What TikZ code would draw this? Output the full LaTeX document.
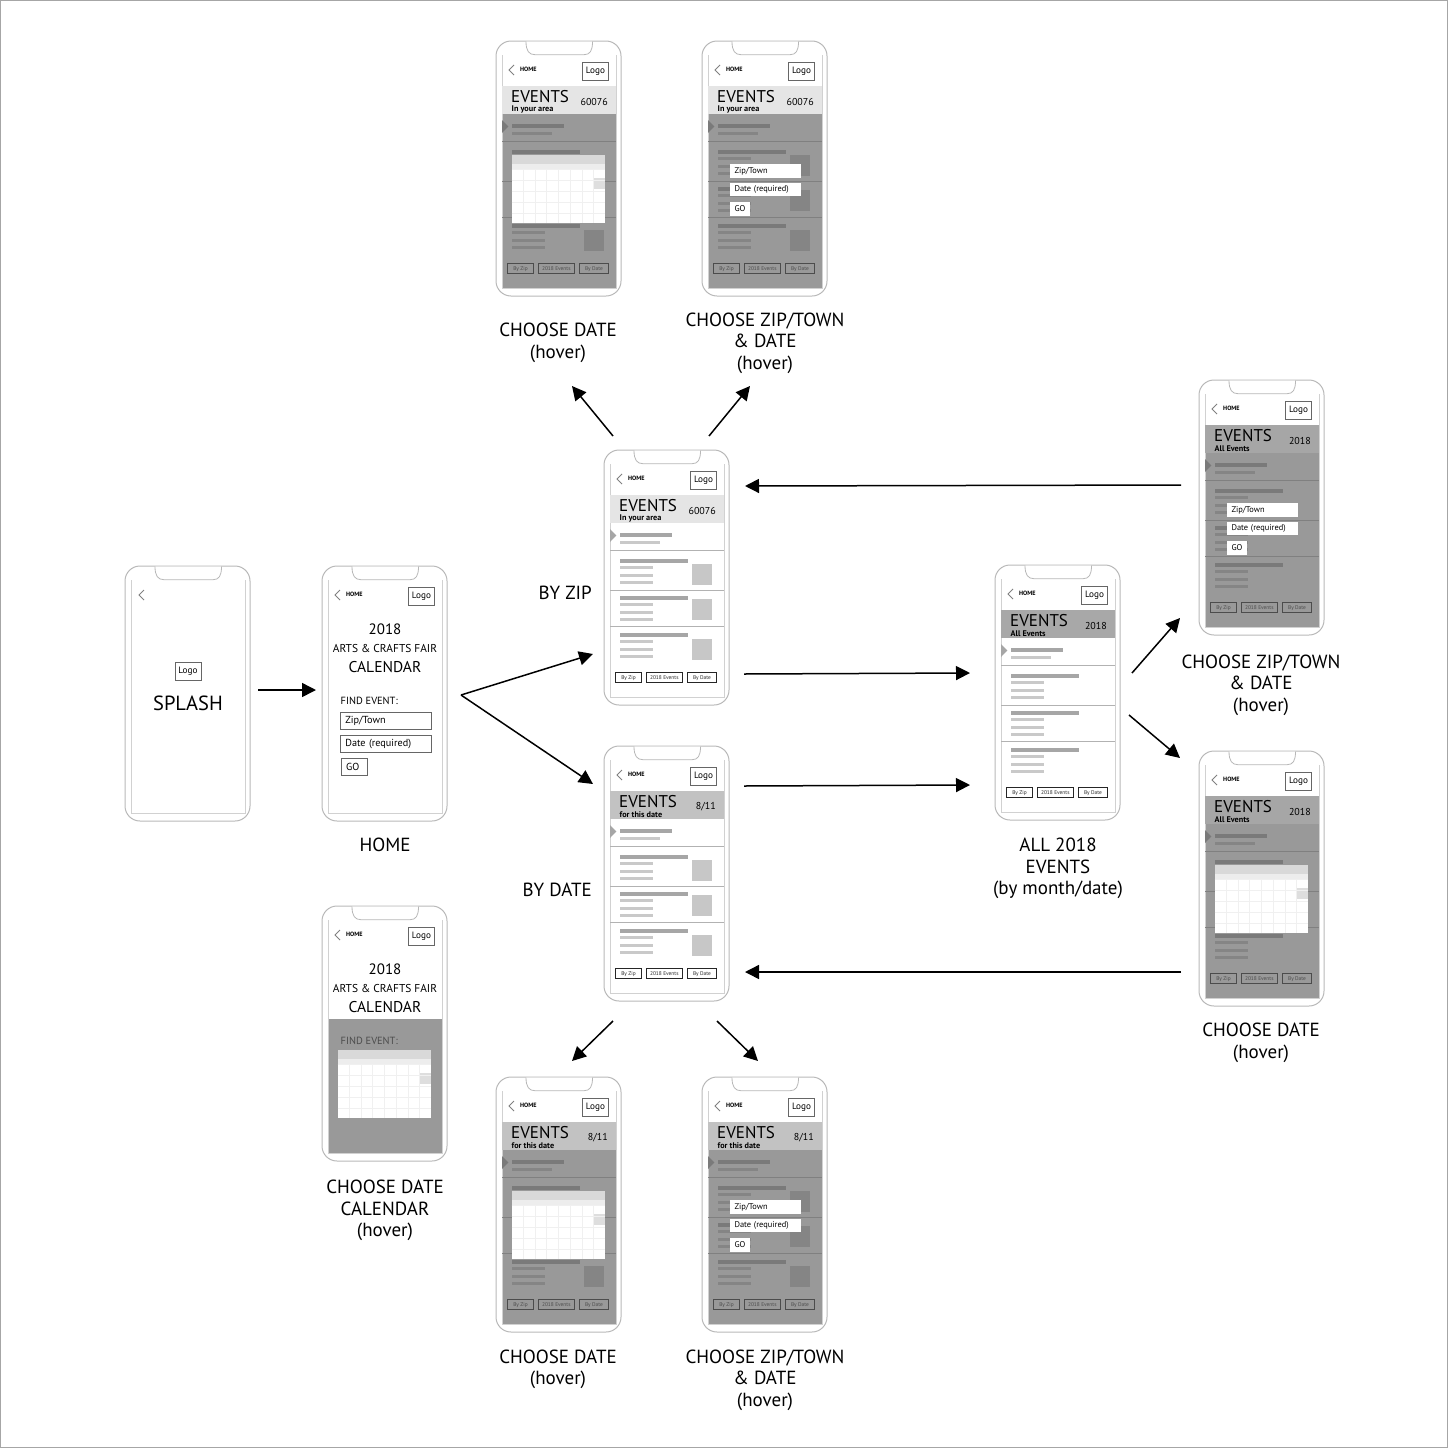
\documentclass[tikz,border=0pt]{standalone}
\usepackage{fontspec}
\setmainfont{PT Sans}
\usetikzlibrary{arrows.meta}

\definecolor{phoneline}{gray}{0.72}
\definecolor{frameline}{gray}{0.82}
\definecolor{boxline}{gray}{0.40}
\definecolor{hoverback}{gray}{0.60}
\definecolor{zipband}{gray}{0.90}
\definecolor{dateband}{gray}{0.76}
\definecolor{allband}{gray}{0.66}
\definecolor{hallband}{gray}{0.65}

\tikzset{
  phone/.style={draw=phoneline, line width=1pt, rounded corners=15pt, minimum width=125pt,
    minimum height=255pt, anchor=north west, inner sep=0pt, outer sep=0pt},
  flow/.style={-{Triangle[length=14pt,width=14pt]}, line width=1.5pt},
  caption/.style={align=center, inner sep=0pt, font=\fontsize{19}{21.6}\selectfont},
  logobox/.style={draw=boxline, line width=0.8pt, inner sep=0pt, minimum width=26pt, minimum height=17.5pt,
    font=\fontsize{9.2}{10}\selectfont},
  homeword/.style={anchor=west, inner sep=0pt, font=\fontsize{6.2}{7}\selectfont\bfseries},
  bigword/.style={anchor=base west, inner sep=0pt, font=\fontsize{17}{18}\selectfont},
  subword/.style={anchor=west, inner sep=0pt, font=\fontsize{8.2}{9}\selectfont\bfseries},
  tagword/.style={anchor=east, inner sep=0pt, font=\fontsize{10}{11}\selectfont},
  tabbox/.style={draw=#1, line width=0.6pt, inner sep=0pt, minimum height=10.5pt, text=#1,
    text height=4.2pt, text depth=1.2pt, font=\fontsize{5.4}{6}\selectfont},
  formbox/.style={draw=boxline, line width=0.8pt, anchor=north west, inner sep=0pt, text width=#1, align=left,
    minimum height=17pt, font=\fontsize{10.2}{11}\selectfont},
  whitebox/.style={fill=white, anchor=north west, inner sep=0pt, text width=#1, align=left,
    minimum height=13.3pt, text height=6.4pt, text depth=1.8pt, font=\fontsize{8.4}{9}\selectfont},
  titleword/.style={inner sep=0pt, font=\fontsize{#1}{#1}\selectfont},
}

% colours of the list, plain page
\newcommand{\plaincolors}{%
  \colorlet{barcol}{black!35}\colorlet{rowcol}{black!21}\colorlet{thumbcol}{black!22}%
  \colorlet{sepcol}{black!30}\colorlet{markcol}{black!35}\colorlet{tabcol}{black!85}}
% colours of the list, page under the hover layer
\newcommand{\hovercolors}{%
  \colorlet{barcol}{black!52}\colorlet{rowcol}{black!48}\colorlet{thumbcol}{black!48}%
  \colorlet{sepcol}{black!50}\colorlet{markcol}{black!52}\colorlet{tabcol}{black!70}}

% #1 name
\newcommand{\phoneframe}[1]{%
  \draw[frameline, line width=0.7pt] (6,14) -- (6,247) -- (120,247) -- (120,14);
  \draw[phoneline, line width=0.8pt, fill=white] (30,0.5) .. controls (30,10) and (33,13.7) .. (39,13.7) -- (88,13.7)
    .. controls (94,13.7) and (96.5,10) .. (96.5,0.5);
}
% #1 name
\newcommand{\topitems}[1]{%
  \draw[black!50, line width=0.8pt] (18,24) -- (13,29) -- (18,34);
  \node[homeword] (#1-home) at (24,28.5) {HOME};
  \node[logobox] (#1-logo) at (99.5,30.5) {Logo};
}
% #1 name, #2 band colour, #3 second line, #4 tag, #5 thumbs 0/1
\newcommand{\eventscreen}[5]{%
  \fill[#2] (6,45) rectangle (120,73.3);
  \node[bigword] (#1-events) at (15,61.5) {EVENTS};
  \node[subword] (#1-sub) at (15.5,68.8) {#3};
  \node[tagword] (#1-tag) at (112,60.7) {#4};
  \fill[markcol] (6,79) -- (12.3,85.5) -- (6,92) -- cycle;
  \fill[barcol] (15.7,82.5) rectangle (68.3,86.5);
  \fill[rowcol] (15.7,91) rectangle (55.7,93.5);
  \foreach \y in {100.7,140,176.7}
    \draw[sepcol, line width=0.7pt] (6,\y) -- (120,\y);
  \foreach \y in {109,146.3,183} {
    \fill[barcol] (15.7,\y) rectangle (84.3,\y+4);
    \fill[rowcol] (15.7,\y+7) rectangle (49,\y+10);
    \fill[rowcol] (15.7,\y+14.5) rectangle (49,\y+17.5);
    \fill[rowcol] (15.7,\y+22) rectangle (49,\y+25);
  }
  \ifnum#5=1
    \foreach \y in {114.3,149.3,189}
      \fill[thumbcol] (88,\y) rectangle (108.3,\y+20.5);
  \fi
  \node[tabbox=tabcol, minimum width=25.5pt] (#1-byzip) at (24.5,227.5) {By Zip};
  \node[tabbox=tabcol, minimum width=36pt] (#1-byall) at (60.3,227.5) {2018 Events};
  \node[tabbox=tabcol, minimum width=29.5pt] (#1-bydate) at (98,227.5) {By Date};
}
% #1 top of the calendar
\newcommand{\calendarsheet}[1]{%
  \fill[white] (15.7,#1) rectangle (109,#1+67.7);
  \fill[black!15] (15.7,#1) rectangle (109,#1+9.3);
  \fill[black!7] (15.7,#1+9.3) rectangle (109,#1+14);
  \fill[black!13] (97,#1+23.3) rectangle (109,#1+34.3);
  \foreach \y in {14,25,36,47,58}
    \draw[black!6, line width=0.5pt] (15.7,#1+\y) -- (109,#1+\y);
  \foreach \x in {27.3,39,50.7,62.4,74.1,85.8,97.5}
    \draw[black!6, line width=0.5pt] (\x,#1+14) -- (\x,#1+67.7);
}
% #1 name
\newcommand{\formsheet}[1]{%
  \node[whitebox=71.7pt] (#1-zipbox) at (27.3,123) {\hspace{5pt}Zip/Town};
  \node[whitebox=71.7pt] (#1-datebox) at (27.3,141.7) {\hspace{5pt}Date (required)};
  \node[whitebox=20.7pt] (#1-go) at (27.3,161) {\hspace{5pt}GO};
}
% #1 name
\newcommand{\fairtitle}[1]{%
  \node[titleword=15] (#1-year) at (63,63) {2018};
  \node[titleword=11.4] (#1-fair) at (63,82.8) {ARTS \& CRAFTS FAIR};
  \node[titleword=15.6] (#1-cal) at (63,100.8) {CALENDAR};
}

\begin{document}
\begin{tikzpicture}[x=1pt,y=-1pt]
  \useasboundingbox (0,0) rectangle (1448,1448);
  \draw[black!35, line width=1pt] (0.5,0.5) rectangle (1447.5,1447.5);

  % the phones
  \node[phone] (splash) at (125,566) {};
  \node[phone] (home) at (322,566) {};
  \node[phone] (calhover) at (322,906) {};
  \node[phone] (zip) at (604,450) {};
  \node[phone] (date) at (604,746) {};
  \node[phone] (all) at (995,565) {};
  \node[phone] (zipdate) at (496,41) {};
  \node[phone] (zipform) at (702,41) {};
  \node[phone] (datedate) at (496,1077) {};
  \node[phone] (dateform) at (702,1077) {};
  \node[phone] (allform) at (1199,380) {};
  \node[phone] (alldate) at (1199,751) {};

  % splash
  \begin{scope}[shift={(splash.north west)}]
    \phoneframe{splash}
    \draw[black!50, line width=0.8pt] (19,24) -- (14,29) -- (19,34);
    \node[logobox] (splash-logo) at (63,105.4) {Logo};
    \node[titleword=20.5] (splash-word) at (63,137.5) {SPLASH};
  \end{scope}

  % home
  \begin{scope}[shift={(home.north west)}]
    \phoneframe{home}
    \topitems{home}
    \fairtitle{home}
    \node[anchor=west, inner sep=0pt, font=\fontsize{10.4}{11}\selectfont] (home-find) at (18.5,135.2) {FIND EVENT:};
    \node[formbox=91pt] (home-zipbox) at (18,145.7) {\hspace{5pt}Zip/Town};
    \node[formbox=91pt] (home-datebox) at (18,169) {\hspace{5pt}Date (required)};
    \node[formbox=26pt] (home-go) at (18.7,192) {\hspace{5pt}GO};
  \end{scope}

  % home with the calendar open
  \begin{scope}[shift={(calhover.north west)}]
    \fill[hoverback] (6,113) rectangle (120,247);
    \phoneframe{calhover}
    \topitems{calhover}
    \fairtitle{calhover}
    \node[anchor=west, inner sep=0pt, text=black!70, font=\fontsize{10.4}{11}\selectfont] (calhover-find) at (18.5,134.7) {FIND EVENT:};
    \calendarsheet{144}
  \end{scope}

  % by zip
  \begin{scope}[shift={(zip.north west)}]
    \plaincolors
    \phoneframe{zip}
    \topitems{zip}
    \eventscreen{zip}{zipband}{In your area}{60076}{1}
  \end{scope}

  % by date
  \begin{scope}[shift={(date.north west)}]
    \plaincolors
    \phoneframe{date}
    \topitems{date}
    \eventscreen{date}{dateband}{for this date}{8/11}{1}
  \end{scope}

  % all events
  \begin{scope}[shift={(all.north west)}]
    \plaincolors
    \phoneframe{all}
    \topitems{all}
    \eventscreen{all}{allband}{All Events}{2018}{0}
  \end{scope}

  % hover pages
  \begin{scope}[shift={(zipdate.north west)}]
    \hovercolors
    \fill[hoverback] (6,73) rectangle (120,247);
    \phoneframe{zipdate}
    \topitems{zipdate}
    \eventscreen{zipdate}{zipband}{In your area}{60076}{1}
    \calendarsheet{114}
  \end{scope}
  \begin{scope}[shift={(zipform.north west)}]
    \hovercolors
    \fill[hoverback] (6,73) rectangle (120,247);
    \phoneframe{zipform}
    \topitems{zipform}
    \eventscreen{zipform}{zipband}{In your area}{60076}{1}
    \formsheet{zipform}
  \end{scope}
  \begin{scope}[shift={(datedate.north west)}]
    \hovercolors
    \fill[hoverback] (6,73) rectangle (120,247);
    \phoneframe{datedate}
    \topitems{datedate}
    \eventscreen{datedate}{dateband}{for this date}{8/11}{1}
    \calendarsheet{114}
  \end{scope}
  \begin{scope}[shift={(dateform.north west)}]
    \hovercolors
    \fill[hoverback] (6,73) rectangle (120,247);
    \phoneframe{dateform}
    \topitems{dateform}
    \eventscreen{dateform}{dateband}{for this date}{8/11}{1}
    \formsheet{dateform}
  \end{scope}
  \begin{scope}[shift={(allform.north west)}]
    \hovercolors
    \fill[hoverback] (6,73) rectangle (120,247);
    \phoneframe{allform}
    \topitems{allform}
    \eventscreen{allform}{hallband}{All Events}{2018}{0}
    \formsheet{allform}
  \end{scope}
  \begin{scope}[shift={(alldate.north west)}]
    \hovercolors
    \fill[hoverback] (6,73) rectangle (120,247);
    \phoneframe{alldate}
    \topitems{alldate}
    \eventscreen{alldate}{hallband}{All Events}{2018}{0}
    \calendarsheet{114}
  \end{scope}

  % captions
  \node[caption] (cap-zipdate) at (558,343) {CHOOSE DATE\\(hover)};
  \node[caption] (cap-zipform) at (765,343) {CHOOSE ZIP/TOWN\\\& DATE\\(hover)};
  \node[caption, anchor=east] (cap-zip) at (592,593) {BY ZIP};
  \node[caption, anchor=east] (cap-date) at (592,890) {BY DATE};
  \node[caption] (cap-home) at (385,845) {HOME};
  \node[caption] (cap-all) at (1058,868.5) {ALL 2018\\EVENTS\\(by month/date)};
  \node[caption] (cap-allform) at (1261,685) {CHOOSE ZIP/TOWN\\\& DATE\\(hover)};
  \node[caption] (cap-alldate) at (1261,1043) {CHOOSE DATE\\(hover)};
  \node[caption] (cap-calhover) at (385,1210.5) {CHOOSE DATE\\CALENDAR\\(hover)};
  \node[caption] (cap-datedate) at (558,1369.5) {CHOOSE DATE\\(hover)};
  \node[caption] (cap-dateform) at (765,1380) {CHOOSE ZIP/TOWN\\\& DATE\\(hover)};

  % arrow ends
  \coordinate (splashout) at (258,690);
  \coordinate (homein) at (316,690);
  \coordinate (homeout) at (461,695);
  \coordinate (zipin) at (593,654);
  \coordinate (datein) at (593,784);
  \coordinate (zipout) at (744,674);
  \coordinate (dateout) at (744,786);
  \coordinate (allinzip) at (970,673);
  \coordinate (allindate) at (970,785);
  \coordinate (zipup1) at (613,436);
  \coordinate (zipup2) at (709,436);
  \coordinate (zipdatein) at (572,386);
  \coordinate (zipformin) at (750,386);
  \coordinate (allout1) at (1132,673);
  \coordinate (allout2) at (1129,715);
  \coordinate (allformin) at (1180,618);
  \coordinate (alldatein) at (1180,758);
  \coordinate (allformout) at (1181,485);
  \coordinate (zipback) at (745,486);
  \coordinate (alldateout) at (1181,972);
  \coordinate (dateback) at (745,972);
  \coordinate (datedown1) at (613,1021);
  \coordinate (datedown2) at (717,1021);
  \coordinate (datedatein) at (572,1061);
  \coordinate (dateformin) at (758,1061);

  \draw[flow] (splashout) -- (homein);
  \draw[flow] (homeout) -- (zipin);
  \draw[flow] (homeout) -- (datein);
  \draw[flow] (zipout) -- (allinzip);
  \draw[flow] (dateout) -- (allindate);
  \draw[flow] (zipup1) -- (zipdatein);
  \draw[flow] (zipup2) -- (zipformin);
  \draw[flow] (allout1) -- (allformin);
  \draw[flow] (allout2) -- (alldatein);
  \draw[flow] (allformout) -- (zipback);
  \draw[flow] (alldateout) -- (dateback);
  \draw[flow] (datedown1) -- (datedatein);
  \draw[flow] (datedown2) -- (dateformin);
\end{tikzpicture}
\end{document}
